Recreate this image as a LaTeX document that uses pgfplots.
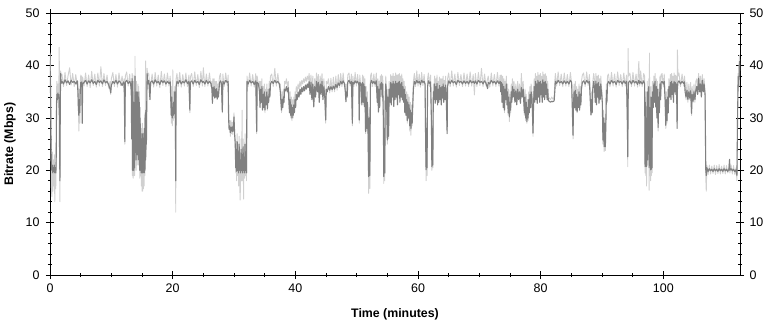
\documentclass[border=0pt]{standalone}
\usepackage{pgfplots}
\usepackage{pgfplotstable}
\pgfplotsset{compat=1.18}
\usepackage{fontspec}
\setmainfont{Liberation Sans}
\definecolor{darkgr}{RGB}{128,128,128}
\definecolor{lightgr}{RGB}{208,208,208}
\pgfplotstableread{
t d l
0.00 41.0 42.5
0.08 36.0 40.0
0.15 27.0 31.0
0.22 21.0 17.0
0.30 20.0 15.0
0.38 21.0 23.5
0.46 19.5 16.0
0.54 20.5 22.0
0.62 19.8 17.0
0.70 21.0 23.0
0.78 19.5 14.0
0.86 20.5 21.5
0.94 19.5 16.5
1.00 20.5 22.0
1.06 31.0 35.0
1.12 34.5 37.0
1.20 33.5 35.0
1.28 34.8 36.5
1.36 33.8 32.0
1.44 34.5 35.5
1.50 33.0 43.5
1.56 24.0 34.0
1.62 18.0 14.0
1.68 33.0 36.0
1.74 38.5 39.0
1.82 36.6 38.0
1.95 37.0 38.4
2.20 36.5 36.0
2.45 37.3 38.7
2.70 36.7 36.2
2.95 37.1 38.1
3.20 36.4 39.6
3.45 37.2 36.3
3.70 36.8 38.5
3.95 37.0 36.0
4.20 36.5 38.3
4.45 37.1 36.2
4.55 35.0 37.0
4.62 32.0 34.0
4.70 30.5 27.5
4.78 33.5 35.5
4.86 31.0 29.0
4.94 35.5 37.0
5.02 36.8 38.2
5.10 36.0 35.5
5.18 36.9 38.0
5.26 29.0 30.5
5.32 36.5 37.8
5.55 36.8 36.1
5.80 37.2 38.6
6.05 36.5 36.0
6.30 37.1 38.2
6.55 36.7 35.8
6.80 37.3 38.9
7.05 36.6 36.2
7.30 37.0 38.4
7.55 36.4 35.9
7.80 37.2 38.6
8.05 36.8 36.1
8.30 37.1 39.8
8.55 36.5 36.0
8.80 37.3 38.5
9.05 36.7 36.2
9.30 37.0 38.2
9.55 36.4 35.7
9.80 35.5 37.0
9.90 34.8 34.5
10.00 36.2 37.5
10.25 37.0 38.7
10.50 36.6 36.0
10.75 37.2 38.3
11.00 36.5 35.9
11.25 37.1 38.6
11.50 36.8 36.2
11.75 36.2 38.0
12.00 36.9 35.8
12.10 36.5 37.5
12.20 25.5 25.0
12.28 36.8 38.0
12.50 37.2 38.8
12.75 36.6 36.1
13.00 37.0 38.4
13.15 36.5 36.0
13.25 35.0 37.0
13.32 26.0 34.0
13.38 37.5 38.5
13.44 20.0 19.0
13.50 37.0 38.2
13.56 20.0 18.5
13.62 33.0 35.0
13.68 20.0 19.0
13.74 30.0 33.0
13.80 20.5 19.0
13.86 38.0 41.8
13.92 24.0 22.0
13.98 32.0 35.0
14.04 22.0 20.0
14.10 35.0 37.0
14.16 23.0 21.0
14.22 28.0 30.0
14.28 24.0 22.0
14.34 35.0 36.5
14.40 22.0 21.0
14.46 34.0 36.0
14.52 25.0 24.0
14.58 33.0 35.0
14.64 20.0 18.5
14.70 30.0 32.0
14.76 20.0 19.0
14.82 27.0 28.0
14.88 19.5 17.0
14.94 26.0 28.0
15.00 20.0 16.0
15.06 27.0 29.0
15.12 19.5 16.0
15.18 25.0 27.0
15.24 20.0 16.5
15.30 27.0 28.0
15.36 19.5 17.0
15.42 28.0 30.0
15.48 20.0 19.0
15.54 31.0 33.0
15.60 22.0 40.9
15.66 31.5 33.0
15.72 25.0 24.0
15.78 33.0 35.0
15.84 38.5 39.5
15.92 36.5 38.0
16.10 37.2 38.6
16.30 33.5 35.0
16.40 36.8 36.2
16.65 37.1 38.4
16.90 36.5 35.9
17.15 37.3 38.7
17.40 36.7 36.1
17.65 37.0 38.2
17.90 36.4 35.8
18.15 37.2 38.9
18.40 36.8 36.2
18.65 37.1 38.4
18.90 36.5 36.0
19.15 37.0 38.6
19.40 36.6 36.1
19.60 36.9 38.0
19.70 33.0 35.0
19.78 30.5 29.0
19.86 34.0 36.0
19.94 30.0 28.5
20.02 32.0 39.2
20.10 30.5 29.5
20.18 33.0 35.0
20.26 30.8 30.0
20.34 35.0 36.0
20.42 34.0 35.5
20.50 18.0 12.0
20.56 36.0 37.5
20.70 37.0 38.5
20.90 36.6 36.0
21.15 37.2 38.7
21.40 36.5 35.9
21.65 37.0 38.3
21.90 36.7 36.1
22.15 37.3 38.6
22.40 36.6 36.0
22.65 37.0 38.2
22.80 31.5 31.0
22.88 36.8 37.8
23.10 37.1 38.5
23.35 36.5 36.0
23.60 37.2 38.8
23.85 36.7 36.2
24.10 37.0 38.3
24.35 36.4 35.8
24.60 37.3 38.9
24.85 36.8 36.1
25.00 37.0 39.6
25.25 36.5 36.0
25.50 37.2 38.4
25.75 36.6 36.1
26.00 37.0 38.6
26.25 36.6 36.0
26.40 35.5 37.0
26.48 32.8 34.0
26.56 35.8 37.5
26.66 34.2 35.0
26.76 36.0 37.5
26.86 33.8 35.0
26.96 35.5 37.0
27.06 34.0 35.0
27.16 35.6 37.0
27.26 33.6 34.8
27.36 35.0 36.5
27.46 34.0 35.0
27.56 35.5 37.0
27.66 36.8 38.0
27.80 37.1 38.5
27.95 36.6 36.0
28.10 31.2 31.0
28.18 37.0 38.4
28.40 36.5 36.0
28.65 37.2 38.6
28.90 36.8 36.2
29.05 37.0 38.2
29.12 30.0 32.0
29.20 27.8 28.8
29.30 28.5 29.5
29.40 27.2 26.5
29.50 28.2 29.5
29.60 27.5 27.0
29.70 28.3 29.2
29.80 27.4 26.8
29.90 28.0 29.0
30.00 30.2 31.0
30.10 27.0 26.5
30.20 25.0 26.0
30.28 20.5 19.5
30.36 24.0 25.5
30.44 19.8 18.0
30.52 25.5 27.0
30.60 20.0 19.0
30.68 23.5 25.0
30.76 19.5 17.0
30.84 25.0 26.5
30.92 20.0 18.0
31.00 22.0 14.3
31.08 19.5 18.5
31.16 24.0 26.0
31.24 20.0 18.0
31.32 23.0 31.5
31.40 19.5 18.0
31.48 24.5 26.0
31.56 20.0 14.5
31.64 22.5 24.0
31.72 19.5 18.5
31.80 25.0 27.0
31.88 20.0 19.0
31.96 23.5 25.0
32.04 19.5 18.0
32.12 37.0 38.0
32.30 36.5 36.0
32.55 37.2 38.6
32.80 36.7 36.1
33.05 37.0 38.3
33.30 36.4 35.9
33.55 37.1 38.5
33.70 27.4 27.0
33.78 36.8 38.0
34.00 36.5 36.0
34.15 35.0 37.0
34.25 32.0 33.0
34.35 35.5 37.0
34.45 33.0 34.0
34.55 36.0 37.5
34.65 31.5 32.0
34.75 34.5 36.0
34.85 32.0 33.0
34.95 35.0 36.5
35.05 31.5 31.0
35.15 34.0 35.5
35.25 32.5 33.0
35.35 35.0 36.5
35.45 31.8 31.5
35.55 34.0 35.5
35.65 33.0 34.0
35.75 35.5 37.0
35.85 34.0 35.0
35.95 36.5 38.0
36.15 37.0 38.4
36.40 36.6 36.0
36.65 37.2 39.5
36.90 36.7 36.1
37.15 37.0 38.5
37.40 36.5 36.0
37.55 35.0 36.5
37.65 33.0 34.0
37.75 31.5 31.0
37.85 33.5 35.0
37.95 32.0 32.0
38.05 34.0 35.5
38.15 33.0 34.0
38.25 35.5 37.0
38.40 35.2 36.5
38.55 36.0 37.5
38.70 35.0 36.0
38.85 35.8 37.0
38.95 33.0 34.5
39.05 31.0 32.0
39.15 33.5 35.0
39.25 30.5 30.0
39.35 32.5 34.0
39.45 30.0 29.5
39.55 32.0 33.5
39.65 30.5 30.0
39.75 32.5 34.0
39.85 31.0 31.0
39.95 33.5 35.0
40.05 32.0 33.0
40.15 34.5 36.0
40.30 33.5 35.0
40.45 35.0 36.5
40.60 34.0 35.5
40.75 35.5 37.0
40.90 34.5 36.0
41.05 35.8 37.2
41.20 35.0 36.5
41.35 36.0 37.5
41.50 35.2 36.8
41.65 36.3 37.8
41.80 35.5 37.0
41.95 36.5 38.0
42.10 35.8 37.2
42.25 37.0 38.5
42.40 34.5 36.0
42.55 36.8 38.2
42.70 33.5 35.0
42.85 36.5 38.0
43.00 32.2 32.0
43.15 36.0 37.5
43.30 34.0 35.5
43.45 37.0 38.6
43.60 35.0 36.5
43.75 36.8 38.3
43.90 33.0 34.5
44.05 36.5 38.0
44.20 34.5 36.0
44.35 37.0 38.5
44.50 33.5 35.0
44.65 36.0 37.5
44.80 34.0 35.0
44.95 29.6 29.0
45.05 35.5 37.0
45.20 35.0 36.5
45.40 36.0 37.5
45.60 35.3 34.8
45.80 36.0 37.6
46.00 35.4 35.0
46.20 36.1 37.8
46.40 35.5 35.0
46.60 36.4 38.0
46.80 35.8 35.3
47.00 36.7 38.3
47.20 36.2 35.8
47.40 37.0 38.5
47.60 36.5 36.0
47.80 37.1 38.6
48.00 36.6 36.1
48.15 35.0 36.5
48.25 33.1 34.5
48.35 35.0 36.5
48.45 34.0 35.0
48.55 36.8 38.2
48.75 37.2 38.6
48.95 36.6 36.1
49.15 37.0 38.4
49.30 29.0 28.5
49.38 36.8 38.0
49.55 36.5 36.0
49.75 37.1 38.7
49.95 36.7 36.1
50.15 37.0 38.3
50.35 36.4 35.9
50.42 29.6 29.0
50.50 36.8 38.2
50.70 36.5 36.0
50.85 32.5 33.0
50.95 36.8 38.2
51.05 33.0 34.0
51.15 36.5 38.0
51.25 32.2 33.0
51.35 36.0 37.5
51.45 27.4 27.0
51.55 34.0 36.0
51.65 28.0 27.5
51.75 33.0 35.0
51.85 27.5 27.0
51.95 18.8 15.6
52.05 30.0 32.0
52.15 19.0 16.5
52.25 36.5 38.0
52.40 37.2 38.6
52.60 36.6 36.0
52.80 37.0 38.4
53.00 36.5 36.0
53.20 37.1 38.6
53.35 33.0 34.5
53.45 36.0 37.5
53.55 31.2 31.0
53.65 35.5 37.0
53.75 32.0 32.5
53.85 36.5 38.0
53.95 35.5 36.5
54.05 36.8 38.3
54.15 34.0 35.5
54.25 36.5 38.0
54.35 30.0 31.0
54.42 18.8 17.5
54.50 28.0 30.0
54.58 19.5 18.0
54.66 33.0 35.0
54.74 36.5 38.0
54.85 35.0 36.0
55.00 25.8 25.0
55.10 34.0 35.5
55.20 26.5 26.0
55.30 35.5 37.0
55.45 33.0 34.5
55.55 36.8 38.3
55.65 32.5 33.0
55.75 36.5 38.0
55.85 34.0 35.0
55.95 37.0 38.5
56.05 32.2 32.5
56.15 36.5 38.0
56.25 33.5 35.0
56.35 37.0 38.6
56.45 34.0 35.5
56.55 36.6 38.2
56.65 32.5 33.0
56.75 36.8 38.3
56.85 34.5 36.0
56.95 37.0 38.5
57.05 33.0 34.5
57.15 36.5 38.0
57.25 34.0 35.5
57.35 36.8 38.4
57.45 33.5 34.5
57.55 36.0 37.5
57.65 33.0 34.5
57.75 35.5 37.0
57.85 31.0 32.0
57.95 34.5 36.0
58.05 30.5 31.0
58.15 33.5 35.0
58.25 29.5 29.0
58.35 33.0 34.5
58.45 30.0 30.5
58.55 32.5 34.0
58.65 28.5 27.5
58.75 31.5 33.0
58.85 28.0 26.7
58.95 31.0 32.5
59.05 29.0 28.5
59.15 32.5 34.0
59.25 35.5 37.0
59.40 37.0 38.5
59.60 36.5 36.0
59.80 37.2 39.0
60.00 36.7 36.1
60.20 37.0 38.4
60.40 36.4 35.9
60.60 37.2 38.7
60.80 36.8 36.2
61.00 37.0 38.3
61.15 36.5 36.0
61.25 25.0 24.0
61.32 20.1 18.0
61.40 28.0 30.0
61.48 20.5 19.0
61.56 36.0 37.5
61.70 37.1 38.6
61.90 36.6 36.0
62.05 36.9 38.2
62.18 30.0 31.0
62.26 20.7 20.0
62.34 28.0 29.5
62.42 21.0 20.5
62.50 35.0 36.5
62.60 33.5 35.0
62.70 36.5 38.0
62.80 32.8 33.5
62.90 36.0 37.5
63.00 33.5 35.0
63.10 36.6 38.2
63.20 32.5 33.0
63.30 35.5 37.0
63.40 33.0 34.5
63.50 36.2 37.8
63.60 33.5 34.0
63.70 35.8 37.5
63.80 32.5 33.0
63.90 36.0 37.5
64.00 33.8 35.0
64.10 36.5 38.0
64.20 33.0 34.0
64.30 35.8 37.2
64.40 33.5 34.5
64.50 36.3 38.0
64.60 34.0 35.0
64.75 27.0 27.5
64.82 36.0 37.5
65.00 37.1 38.6
65.25 36.6 36.0
65.50 37.2 39.0
65.75 36.7 36.1
66.00 37.0 38.4
66.25 36.4 35.9
66.50 37.2 38.7
66.75 36.8 36.2
67.00 37.0 38.3
67.25 36.5 36.0
67.50 37.1 38.6
67.75 36.6 36.1
68.00 37.0 38.4
68.25 36.5 36.0
68.50 37.2 38.8
68.75 36.7 36.1
69.00 37.0 38.3
69.20 36.6 34.4
69.35 37.1 38.5
69.60 36.5 36.0
69.85 37.2 38.7
70.10 36.8 36.2
70.35 37.0 39.5
70.60 36.5 36.0
70.85 37.1 38.4
71.10 36.6 36.1
71.35 35.6 37.5
71.45 36.8 38.0
71.70 36.5 35.9
71.95 37.2 38.6
72.20 36.7 36.1
72.45 37.0 38.3
72.70 36.5 36.0
72.95 37.1 38.7
73.20 36.6 36.1
73.40 37.0 38.2
73.50 35.0 36.5
73.60 36.8 38.2
73.70 33.0 34.5
73.80 36.5 38.0
73.90 32.0 33.0
74.00 36.0 37.5
74.10 31.5 31.0
74.20 35.5 37.0
74.30 33.5 35.0
74.40 36.5 38.0
74.50 32.5 33.5
74.60 35.0 36.5
74.70 31.0 30.5
74.80 34.0 35.5
74.90 30.2 29.3
75.00 33.0 34.5
75.10 31.5 31.0
75.20 35.0 36.5
75.30 33.0 34.0
75.40 36.0 37.5
75.50 34.0 35.0
75.65 35.5 37.0
75.80 33.0 34.0
75.95 35.2 36.5
76.10 32.5 33.5
76.25 35.5 37.0
76.40 33.5 34.5
76.55 35.0 36.5
76.70 32.8 33.0
76.85 35.8 38.5
77.00 34.0 35.0
77.15 35.5 37.0
77.25 33.0 34.0
77.35 31.0 30.5
77.45 34.0 35.5
77.55 30.0 29.5
77.65 33.0 34.5
77.75 29.3 29.0
77.85 32.0 33.5
77.95 30.0 29.5
78.05 33.5 35.0
78.15 31.0 31.0
78.25 34.5 36.0
78.35 32.0 32.5
78.45 35.0 36.5
78.60 33.5 34.5
78.75 27.1 26.5
78.85 33.0 34.5
78.95 36.0 37.5
79.05 33.0 34.0
79.15 37.0 38.5
79.25 33.5 34.5
79.35 36.5 38.0
79.45 32.8 33.0
79.55 37.2 38.7
79.65 34.0 35.0
79.75 36.8 38.2
79.85 33.0 33.5
79.95 37.0 38.5
80.05 34.5 35.5
80.15 36.5 38.0
80.25 33.0 33.5
80.35 37.3 38.8
80.45 34.0 35.0
80.55 36.8 38.3
80.65 33.5 34.0
80.75 37.0 38.5
80.85 34.5 35.5
80.95 36.5 38.0
81.05 33.5 34.0
81.15 35.5 37.0
81.25 33.3 34.0
81.40 33.2 33.8
81.60 33.0 33.5
81.80 33.2 34.0
82.00 33.1 33.6
82.20 33.3 34.0
82.30 35.0 37.0
82.40 37.0 38.5
82.60 36.6 36.1
82.85 37.2 38.8
83.10 36.7 36.2
83.35 37.0 38.4
83.60 36.5 36.0
83.85 37.1 38.6
84.10 36.6 36.1
84.35 37.0 38.3
84.60 36.5 36.0
84.85 37.2 38.7
85.05 36.8 36.5
85.20 30.0 31.0
85.28 26.7 26.0
85.36 33.0 35.0
85.45 35.0 36.5
85.55 32.0 33.0
85.65 35.3 37.0
85.75 31.5 31.5
85.85 34.5 36.0
85.95 31.2 31.0
86.05 34.0 35.5
86.15 32.0 32.5
86.25 35.0 36.5
86.35 31.5 32.0
86.45 34.5 36.0
86.55 32.5 33.0
86.65 35.5 37.0
86.80 36.8 38.2
87.00 37.1 38.6
87.25 36.5 36.0
87.50 37.2 38.8
87.75 36.7 36.2
87.95 37.0 38.3
88.10 33.0 34.0
88.20 30.6 30.5
88.30 33.5 35.0
88.40 31.0 31.5
88.50 35.5 37.0
88.65 37.0 38.5
88.80 35.5 37.0
88.90 33.0 34.0
89.00 37.0 38.5
89.10 32.5 33.0
89.20 36.5 38.0
89.30 34.0 35.0
89.40 36.8 38.2
89.50 32.8 33.0
89.60 36.0 37.5
89.70 33.5 34.5
89.80 36.5 38.0
89.90 35.0 36.0
90.05 33.0 34.5
90.15 25.8 25.0
90.25 30.0 31.5
90.35 24.5 23.6
90.45 29.0 30.0
90.55 24.5 23.8
90.65 30.0 31.5
90.72 35.3 36.5
90.80 33.0 34.5
90.90 36.5 38.0
91.05 37.0 38.4
91.30 36.5 36.0
91.55 37.2 38.7
91.80 36.7 36.1
92.05 37.0 38.4
92.30 36.4 35.9
92.55 37.2 38.8
92.80 36.8 36.2
93.05 37.0 38.3
93.30 36.5 36.0
93.55 37.1 38.6
93.80 36.6 36.1
94.00 37.0 38.2
94.12 30.0 31.0
94.20 22.6 20.7
94.26 33.0 43.3
94.32 36.8 38.0
94.55 37.1 38.6
94.80 36.5 36.0
95.05 37.2 38.7
95.30 36.7 36.1
95.55 37.0 38.4
95.80 36.4 35.9
96.00 37.2 40.8
96.15 36.6 36.1
96.30 37.0 39.0
96.55 36.5 36.0
96.80 37.1 38.5
96.95 36.5 38.0
97.02 20.7 19.5
97.08 33.0 35.0
97.14 20.8 19.0
97.20 30.0 32.0
97.26 20.7 17.0
97.32 25.0 27.0
97.38 35.0 37.0
97.44 22.0 21.0
97.50 30.0 32.0
97.56 24.0 23.0
97.62 36.0 37.5
97.68 20.5 16.2
97.74 32.0 42.4
97.80 21.0 19.0
97.86 28.0 30.0
97.92 20.1 18.0
97.98 34.0 36.0
98.04 20.2 19.0
98.10 26.0 28.0
98.16 20.5 19.5
98.22 35.0 37.0
98.35 32.0 33.0
98.45 36.5 38.0
98.55 33.0 34.5
98.65 37.0 38.5
98.75 32.2 32.0
98.85 36.0 37.5
98.95 30.0 30.5
99.05 35.5 37.0
99.15 28.2 27.5
99.25 34.0 35.5
99.35 31.0 31.5
99.45 36.5 38.0
99.55 33.5 35.0
99.65 36.8 38.3
99.80 37.0 38.5
100.00 36.5 36.0
100.15 37.0 38.4
100.30 33.0 34.0
100.40 28.6 28.0
100.50 33.5 35.0
100.60 29.5 29.0
100.70 34.0 35.5
100.80 31.0 31.0
100.90 36.0 37.5
101.05 34.0 35.0
101.15 36.8 38.3
101.25 33.5 34.5
101.35 37.0 38.5
101.45 34.5 35.5
101.55 36.5 38.0
101.65 33.0 34.0
101.75 37.0 38.6
101.85 35.0 36.0
101.95 36.8 38.2
102.05 34.5 35.5
102.15 36.5 38.0
102.25 28.0 29.0
102.30 35.5 43.0
102.38 36.8 38.0
102.55 37.1 38.6
102.80 36.5 36.0
103.05 37.0 38.4
103.30 36.6 36.1
103.45 36.9 38.0
103.55 35.0 36.5
103.70 34.0 33.5
103.85 35.3 36.8
104.00 33.5 33.0
104.15 35.0 36.5
104.30 33.8 33.5
104.45 35.2 36.8
104.60 30.9 30.5
104.70 34.5 36.0
104.85 33.2 33.0
105.00 35.0 36.5
105.15 33.5 33.0
105.30 35.3 37.0
105.45 36.0 37.5
105.60 34.5 35.5
105.75 37.6 38.5
105.90 35.0 36.0
106.05 36.5 38.0
106.20 34.0 35.0
106.35 37.2 38.3
106.50 35.0 36.0
106.65 36.5 37.5
106.80 34.5 35.0
106.92 20.1 18.5
107.00 19.0 16.0
107.10 20.5 21.0
107.30 19.8 19.2
107.50 20.3 21.0
107.70 19.9 19.3
107.90 20.2 20.8
108.10 19.8 19.4
108.30 20.3 21.0
108.50 19.9 19.2
108.70 20.2 20.9
108.90 19.8 19.4
109.10 20.3 21.1
109.30 19.9 19.3
109.50 20.2 20.8
109.70 19.8 19.4
109.90 20.3 21.0
110.10 19.9 19.3
110.30 20.2 20.9
110.50 19.8 19.5
110.70 20.2 20.8
110.80 22.1 22.0
110.85 20.0 19.5
111.05 20.3 21.0
111.25 19.9 19.3
111.45 20.2 20.9
111.65 19.8 19.2
111.85 20.1 20.5
112.00 19.0 18.0
112.10 30.0 32.0
112.20 37.9 38.5
112.30 36.0 37.0
112.40 40.8 42.0
112.50 38.0 39.0
}\bitrate
\begin{document}
\begin{tikzpicture}
\pgfplotsset{
  common/.style={
    scale only axis, width=690bp, height=261.7bp,
    xmin=0, xmax=112.5, ymin=0, ymax=50,
    /pgf/number format/assume math mode=true,
    tick label style={font=\fontsize{12.5}{14}\selectfont},
  }
}
\begin{axis}[common, name=main,
  xtick={0,20,...,100}, minor x tick num=3,
  ytick={0,10,...,50}, minor y tick num=4,
  tick align=center, major tick length=8bp, minor tick length=4bp,
  tick style={black, line width=0.8bp},
  axis line style={black, line width=0.8bp},
  xlabel={\fontsize{12.4}{14}\selectfont\bfseries Time (minutes)},
  ylabel={\fontsize{12.4}{14}\selectfont\bfseries Bitrate (Mbps)},
  xlabel style={at={(axis description cs:0.5,0)}, anchor=center, yshift=-39bp},
  ylabel style={at={(axis description cs:-0.058,0.5)}, anchor=center, rotate=0},
  yticklabel style={xshift=-3bp},
  xticklabel style={yshift=-1bp},
  ytick pos=both, xtick pos=both, xticklabel pos=lower, yticklabel pos=left,
]
\addplot[lightgr, line width=0.9bp, line join=round] table[x=t, y=l]{\bitrate};
\addplot[darkgr, line width=1.1bp, line join=round] table[x=t, y=d]{\bitrate};
\end{axis}
\begin{axis}[common,
  hide x axis, axis y line*=right,
  ytick={0,10,...,50}, ytick style={draw=none},
  yticklabel style={xshift=6bp},
  axis line style={draw=none},
]
\end{axis}
\path (main.south west) ++(-50bp,-47bp) rectangle ++(772bp,322bp);
\end{tikzpicture}
\end{document}
